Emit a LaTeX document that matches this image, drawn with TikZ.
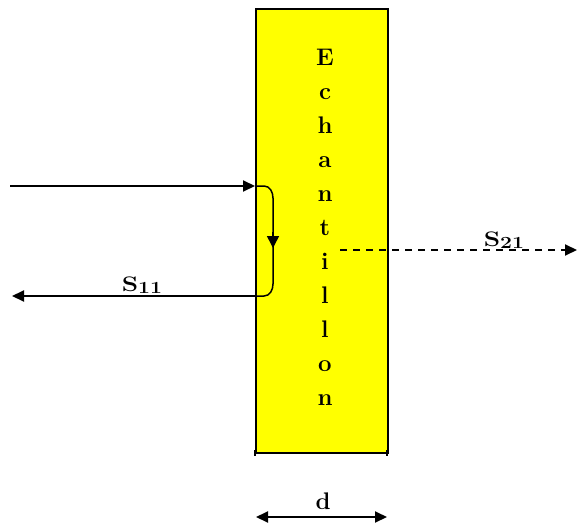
\documentclass[tikz,border=0pt]{standalone}
\usetikzlibrary{arrows.meta}
\definecolor{sampleyellow}{RGB}{255,255,0}
\begin{document}
\begin{tikzpicture}[x=1pt,y=-1pt,
  lbl/.style={font=\bfseries\fontsize{21}{22}\selectfont, inner sep=0pt},
  letter/.style={font=\bfseries\fontsize{24}{26}\selectfont, inner sep=0pt},
  wire/.style={line width=2pt},
  tip/.style={-{Triangle[length=12pt,width=11pt]}}]
\useasboundingbox (0,0) rectangle (578,524);
% sample
\node[draw=black, line width=2pt, fill=sampleyellow, minimum width=132pt, minimum height=444pt, inner sep=0pt, anchor=north west] (ech) at (255,8) {};
\draw[line width=2pt] (255,450) -- (255,456);
\draw[line width=2pt] (387,450) -- (387,456);
\foreach \c [count=\i from 0] in {E,c,h,a,n,t,i,l,l,o,n} {
  \node[letter, anchor=base] (L\i) at (325,{66+33.9*\i}) {\c};
}
% incident wave
\coordinate (inA) at (10,186);
\coordinate (inB) at (255,186);
\draw[wire,tip] (inA) -- (inB);
% reflection path
\coordinate (r1) at (273,198);
\coordinate (r2) at (273,284);
\coordinate (outA) at (255,296);
\draw[line width=1.5pt] (inB) -- (264,186) to[out=0,in=90] (r1) -- (r2) to[out=-90,in=0] (264,296) -- (outA);
\coordinate (mid1) at (273,232);
\coordinate (mid2) at (273,248);
\draw[line width=1.5pt,-{Triangle[length=12pt,width=12pt]}] (mid1) -- (mid2);
% reflected wave
\coordinate (outB) at (12,296);
\draw[wire,tip] (outA) -- (outB);
\node[lbl, anchor=base] (s11) at (142,291) {\scalebox{1.25}[1]{S\raisebox{-2pt}{\fontsize{17}{18}\selectfont 11}}};
% transmitted wave
\coordinate (tA) at (340,250);
\coordinate (tB) at (577,250);
\draw[wire,dash pattern=on 7pt off 6pt,tip] (tA) -- (tB);
\node[lbl, anchor=base] (s21) at (504,246) {\scalebox{1.25}[1]{S\raisebox{-2pt}{\fontsize{17}{18}\selectfont 21}}};
% thickness
\coordinate (dA) at (256,517);
\coordinate (dB) at (387,517);
\draw[wire,{Triangle[length=12pt,width=11pt]}-{Triangle[length=12pt,width=11pt]}] (dA) -- (dB);
\node[letter, anchor=base] (d) at (323,509) {d};
\end{tikzpicture}
\end{document}
